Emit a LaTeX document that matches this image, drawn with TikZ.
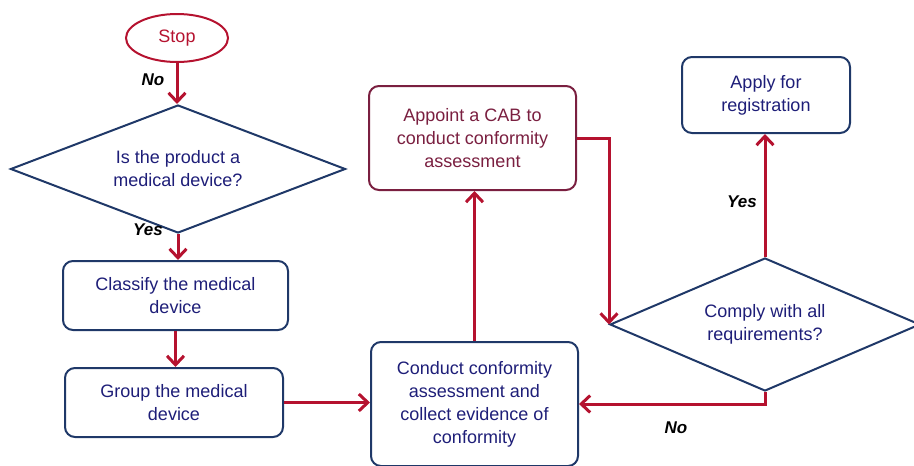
\documentclass[tikz,border=0pt]{standalone}
\usepackage{fontspec}
\setmainfont{Liberation Sans}
\usetikzlibrary{shapes.geometric, arrows.meta}
\definecolor{navy}{HTML}{1F3868}
\definecolor{navytext}{HTML}{1E1E78}
\definecolor{flowred}{HTML}{B5122F}
\definecolor{maroon}{HTML}{7A1F40}
\begin{document}
\begin{tikzpicture}[x = 1pt, y = -1pt,
    every node/.style = {font = \fontsize{18}{23}\selectfont, align = center},
    stepbox/.style = {shape = rectangle, rounded corners = 10pt, draw = navy, line width = 2pt,
        text = navytext, inner sep = 0pt},
    question/.style = {shape = diamond, draw = navy, line width = 2pt, text = navytext, inner sep = 0pt},
    answer/.style = {font = \fontsize{17}{20}\selectfont\bfseries\itshape, text = black},
    flow/.style = {draw = flowred, line width = 3pt, -{Straight Barb[length = 9pt, width = 17pt, line width = 3pt]}}]
        \useasboundingbox (0,0) rectangle (914,466);
        \node[shape = ellipse, draw = flowred, line width = 2pt, text = flowred,
            minimum width = 102pt, minimum height = 48pt, inner sep = 0pt] (stop) at (177,38) {Stop};
        \node[question, aspect = 2.6, minimum width = 335pt, minimum height = 128pt] (product) at (178,169)
            {Is the product a\\ medical device?};
        \node[stepbox, minimum width = 225pt, minimum height = 69pt] (classify) at (175.5,295.5)
            {Classify the medical\\ device};
        \node[stepbox, minimum width = 218pt, minimum height = 69pt] (group) at (174,402.5)
            {Group the medical\\ device};
        \node[stepbox, minimum width = 207pt, minimum height = 124pt] (conduct) at (474.5,404)
            {Conduct conformity\\ assessment and\\ collect evidence of\\ conformity};
        \node[stepbox, draw = maroon, text = maroon, minimum width = 207pt, minimum height = 104pt]
            (appoint) at (472.5,138) {Appoint a CAB to\\ conduct conformity\\ assessment};
        \node[question, aspect = 2.3, minimum width = 310pt, minimum height = 133pt] (comply) at (765,324.5)
            {Comply with all\\ requirements?};
        \node[stepbox, minimum width = 168pt, minimum height = 76pt] (apply) at (766,95)
            {Apply for\\ registration};
        % answers
        \node[answer] (no1) at (153,80) {No};
        \node[answer] (yes1) at (148,230) {Yes};
        \node[answer] (yes2) at (742,202) {Yes};
        \node[answer] (no2) at (676,428) {No};
        % connectors
        \draw[flow] (stop.south) -- (stop.south |- product.north);
        \draw[flow] (product.south) -- (product.south |- classify.north);
        \draw[flow] (classify.south) -- (classify.south |- group.north);
        \draw[flow] (group.east) -- (group.east -| conduct.west);
        \draw[flow] (conduct.north) -- (conduct.north |- appoint.south);
        \draw[flow] (appoint.east) -| (comply.west);
        \draw[flow] (comply.south) |- (conduct.east);
        \draw[flow] (comply.north) -- (comply.north |- apply.south);
\end{tikzpicture}
\end{document}
